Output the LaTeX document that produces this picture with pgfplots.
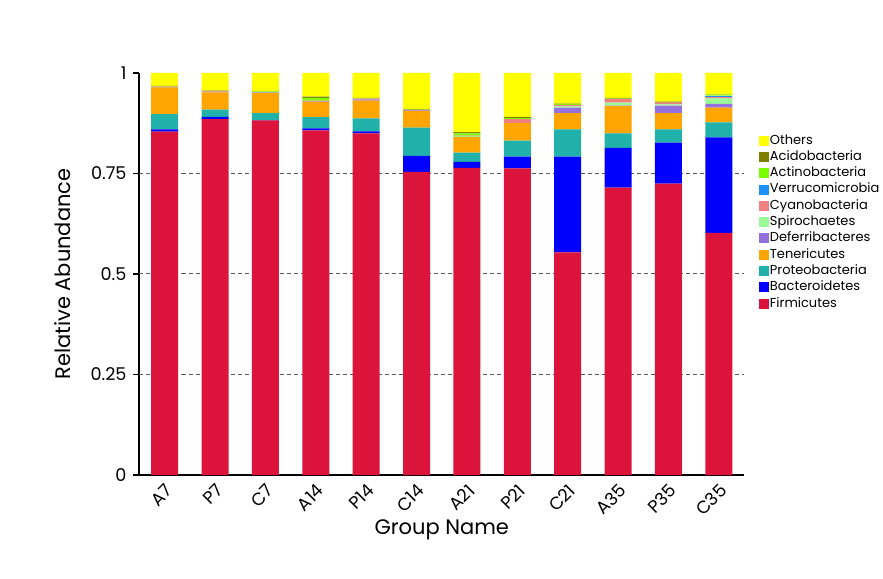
\documentclass[border=0pt]{standalone}
\usepackage{pgfplots}
\pgfplotsset{compat=1.18}
\usepackage{pgfplotstable}
\usepackage{fontspec}
\setmainfont{Poppins}
\definecolor{cFirm}{RGB}{220,20,60}
\definecolor{cBact}{RGB}{0,0,255}
\definecolor{cProt}{RGB}{32,178,170}
\definecolor{cTen}{RGB}{255,165,0}
\definecolor{cDef}{RGB}{147,112,219}
\definecolor{cSpir}{RGB}{152,251,152}
\definecolor{cCyan}{RGB}{240,128,128}
\definecolor{cVerr}{RGB}{30,144,255}
\definecolor{cAct}{RGB}{124,252,0}
\definecolor{cAcid}{RGB}{128,128,0}
\definecolor{cOth}{RGB}{255,255,0}
\pgfplotstableread{
x Firm Bact Prot Ten Def Spir Cyan Verr Act Acid Oth
0 0.854 0.006 0.038 0.066 0.001 0.000 0.001 0.000 0.001 0.001 0.032
1 0.885 0.006 0.018 0.043 0.001 0.000 0.001 0.000 0.001 0.001 0.044
2 0.882 0.001 0.017 0.050 0.001 0.000 0.001 0.000 0.002 0.001 0.045
3 0.857 0.005 0.028 0.039 0.001 0.000 0.001 0.000 0.007 0.003 0.059
4 0.850 0.005 0.032 0.044 0.003 0.000 0.002 0.000 0.001 0.001 0.062
5 0.754 0.040 0.070 0.042 0.001 0.000 0.001 0.000 0.001 0.001 0.090
6 0.764 0.015 0.023 0.039 0.000 0.002 0.001 0.000 0.006 0.003 0.147
7 0.763 0.029 0.040 0.043 0.000 0.000 0.010 0.000 0.003 0.002 0.110
8 0.554 0.238 0.068 0.040 0.014 0.003 0.004 0.000 0.002 0.001 0.076
9 0.715 0.099 0.036 0.068 0.001 0.007 0.009 0.000 0.001 0.002 0.062
10 0.725 0.102 0.033 0.040 0.019 0.003 0.004 0.000 0.000 0.003 0.071
11 0.602 0.238 0.037 0.037 0.009 0.014 0.003 0.004 0.002 0.001 0.053
}\data
\begin{document}
\begin{tikzpicture}
\useasboundingbox (-69.75pt,-51.5pt) rectangle (371.75pt,237.5pt);
\begin{axis}[
  at={(0pt,0pt)}, anchor=south west,
  scale only axis, width=302.25pt, height=201pt,
  xmin=-0.5, xmax=11.5, ymin=0, ymax=1,
  ybar stacked, bar width=13.5pt,
  axis x line*=bottom, axis y line*=left,
  axis line style={line width=1pt, black},
  xtick={0,...,11},
  xticklabels={A7,P7,C7,A14,P14,C14,A21,P21,C21,A35,P35,C35},
  x tick style={draw=none},
  minor xtick={-0.5,0.5,...,11.5},
  minor x tick style={line width=0.8pt, black},
  minor tick length=3pt,
  ytick={0,0.25,0.5,0.75,1},
  y tick style={line width=0.8pt, black},
  major tick length=3pt,
  tick align=outside,
  extra y ticks={0.25,0.5,0.75},
  extra y tick labels={},
  extra y tick style={grid=major, major tick length=0pt},
  grid style={dash pattern=on 2pt off 1.5pt, gray!70!black, line width=0.5pt},
  /pgf/number format/assume math mode=true,
  ticklabel style={font=\fontsize{8.8}{10}\selectfont},
  xticklabel style={rotate=45, anchor=north east, xshift=0.5pt, yshift=0.5pt, inner sep=1pt},
  xlabel={Group Name}, ylabel={Relative Abundance},
  xlabel style={font=\fontsize{10.5}{12}\selectfont, at={(axis description cs:0.5,-0.136)}, anchor=center},
  ylabel style={font=\fontsize{10.5}{12}\selectfont, at={(axis description cs:-0.127,0.5)}, anchor=center},
  reverse legend,
  legend style={at={(1.024,0.853)}, anchor=north west, draw=none, fill=none,
    font=\fontsize{6.5}{7}\selectfont, inner sep=0pt, row sep=0pt,
    nodes={inner sep=0.5pt, text height=5.3pt, text depth=1.85pt}},
  legend cell align=left,
  legend image code/.code={\fill[#1] (0pt,-2.5pt) rectangle (5pt,2.5pt);},
  every axis plot/.append style={draw=none},
]
\addplot[fill=cFirm] table[x=x,y=Firm]{\data};
\addplot[fill=cBact] table[x=x,y=Bact]{\data};
\addplot[fill=cProt] table[x=x,y=Prot]{\data};
\addplot[fill=cTen] table[x=x,y=Ten]{\data};
\addplot[fill=cDef] table[x=x,y=Def]{\data};
\addplot[fill=cSpir] table[x=x,y=Spir]{\data};
\addplot[fill=cCyan] table[x=x,y=Cyan]{\data};
\addplot[fill=cVerr] table[x=x,y=Verr]{\data};
\addplot[fill=cAct] table[x=x,y=Act]{\data};
\addplot[fill=cAcid] table[x=x,y=Acid]{\data};
\addplot[fill=cOth] table[x=x,y=Oth]{\data};
\legend{Firmicutes,Bacteroidetes,Proteobacteria,Tenericutes,Deferribacteres,Spirochaetes,Cyanobacteria,Verrucomicrobia,Actinobacteria,Acidobacteria,Others}
\end{axis}
\end{tikzpicture}
\end{document}
